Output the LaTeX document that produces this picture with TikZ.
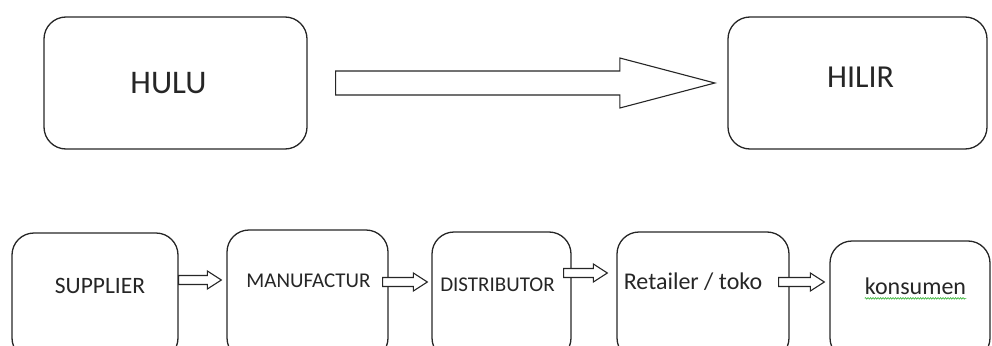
\documentclass[tikz,border=0pt]{standalone}
\usepackage{fontspec}
\setmainfont{Carlito}
\usetikzlibrary{calc,decorations.pathmorphing}
\newcommand\myblockarrow[5]{%
  \draw[blk] ($(#1)+(0,-#3)$) -- ($(#2)+(-#5,-#3)$) -- ($(#2)+(-#5,-#4)$) -- (#2)
    -- ($(#2)+(-#5,#4)$) -- ($(#2)+(-#5,#3)$) -- ($(#1)+(0,#3)$) -- cycle;}
\begin{document}
\begin{tikzpicture}[x=1pt,y=-1pt,
  box/.style={draw=black!85, line width=1.3pt, rounded corners=22pt, inner sep=0pt},
  lbl/.style={anchor=base, inner sep=0pt, text=black!85},
  blk/.style={draw=black!85, line width=1.1pt, fill=white, line join=miter}]
\useasboundingbox (0,0) rectangle (992,345);
\clip (0,0) rectangle (992,345);
% top row
\node[box, minimum width=263pt, minimum height=132pt] (hulu) at (175.5,83) {};
\node[box, minimum width=259pt, minimum height=132pt] (hilir) at (857.5,83) {};
\node[lbl, font=\fontsize{33}{36}\selectfont] (thulu) at (168.5,93) {HULU};
\node[lbl, font=\fontsize{32}{35}\selectfont] (thilir) at (860.5,87) {HILIR};
\coordinate (bigs) at ($(hulu.east)+(28,0)$);
\coordinate (bigt) at ($(hilir.west)+(-12.5,0)$);
\myblockarrow{bigs}{bigt}{12}{25}{95}
% bottom row
\node[box, minimum width=166pt, minimum height=127pt] (sup) at (95,296.5) {};
\node[box, minimum width=161pt, minimum height=130pt] (man) at (307.5,295) {};
\node[box, minimum width=139pt, minimum height=128pt] (dis) at (501.5,296) {};
\node[box, minimum width=172pt, minimum height=128pt] (ret) at (703,296) {};
\node[box, minimum width=160pt, minimum height=119pt] (kon) at (910,300.5) {};
\node[lbl, font=\fontsize{23.5}{26}\selectfont] (tsup) at (100,293) {SUPPLIER};
\node[lbl, font=\fontsize{21}{24}\selectfont] (tman) at (308.5,287) {MANUFACTUR};
\node[lbl, font=\fontsize{21}{24}\selectfont] (tdis) at (497.5,291) {DISTRIBUTOR};
\node[lbl, font=\fontsize{24}{27}\selectfont] (tret) at (693,289) {Retailer / toko};
\node[lbl, font=\fontsize{24}{27}\selectfont] (tkon) at (915.5,294) {konsumen};
\draw[green!45!gray, line width=0.7pt, decorate, decoration={snake, amplitude=0.8pt, segment length=2.5pt}]
  ($(tkon.south west)+(0,4)$) -- ($(tkon.south east)+(0,4)$);
% small arrows
\coordinate (a1s) at ($(sup.east)+(0,-16.5)$);
\coordinate (a1t) at ($(man.west)+(-5,-15)$);
\coordinate (a2s) at ($(man.east)+(-6,-13)$);
\coordinate (a2t) at ($(dis.west)+(-4,-14)$);
\coordinate (a3s) at ($(dis.east)+(-8,-23)$);
\coordinate (a3t) at ($(ret.west)+(-9,-23)$);
\coordinate (a4s) at ($(ret.east)+(-11,-14)$);
\coordinate (a4t) at ($(kon.west)+(-5,-18.5)$);
\myblockarrow{a1s}{a1t}{4.5}{9}{14}
\myblockarrow{a2s}{a2t}{4.5}{9}{14}
\myblockarrow{a3s}{a3t}{4.5}{9}{14}
\myblockarrow{a4s}{a4t}{4.5}{9}{14}
\end{tikzpicture}
\end{document}
